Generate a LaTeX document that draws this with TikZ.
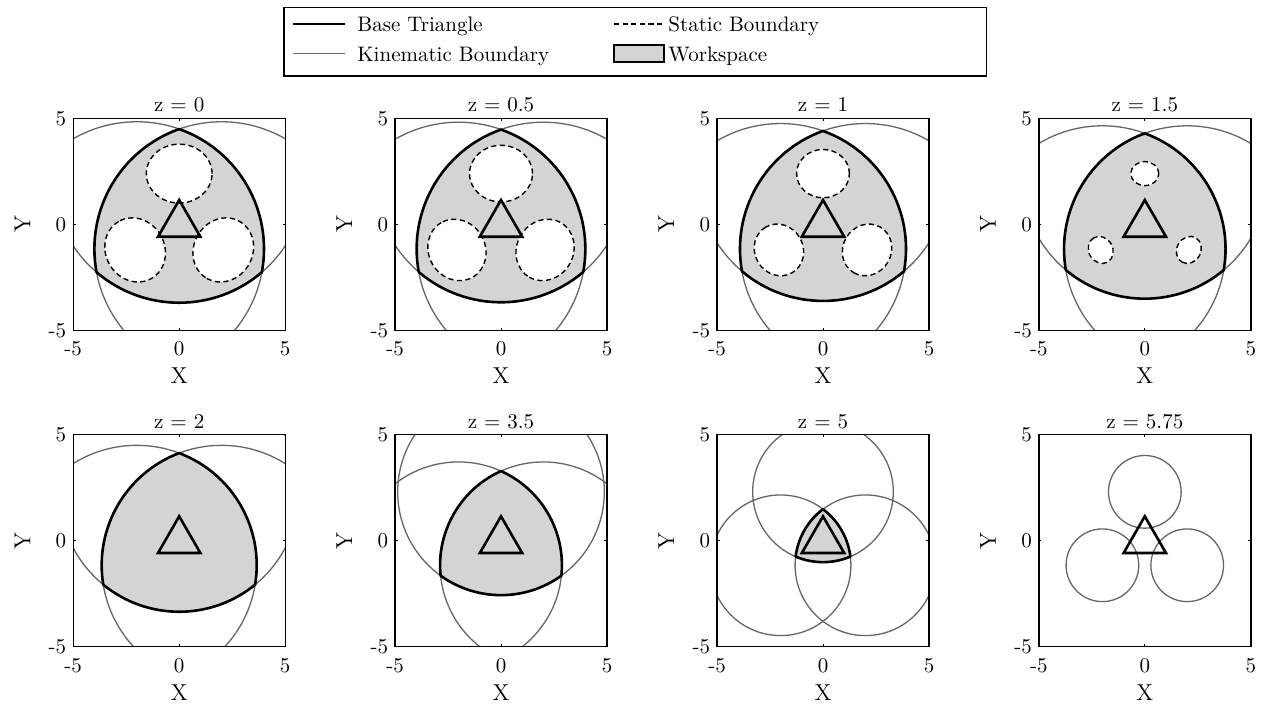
\documentclass[tikz,border=0pt]{standalone}
\usepackage{tikz}
\tikzset{
  kin/.style={draw=black!60, line width=0.65pt},
  wsfill/.style={fill=black!17},
  wsedge/.style={draw=black, line width=1.3pt, line join=round},
  stat/.style={draw=black, line width=0.7pt, dash pattern=on 2.6pt off 1.7pt},
  basetri/.style={draw=black, line width=1.3pt, line join=miter},
  axbox/.style={draw=black, line width=0.7pt},
  lbl/.style={font=\fontsize{10.5}{12}\selectfont, inner sep=0pt},
  axlbl/.style={font=\fontsize{11.5}{13}\selectfont, inner sep=0pt},
}
% #1 name, #2 cx, #3 cy (px), #4 title, #5 z, #6 hole radial semi-axis, #7 hole tangential semi-axis
\newcommand\wsPanel[7]{%
 \pgfmathsetmacro\wsR{sqrt(36-(#5)*(#5))}%
 \pgfmathtruncatemacro\wsOK{\wsR>2.001?1:0}%
 \begin{scope}[shift={(#2,#3)}, x=10.6pt, y=10.6pt]
  \begin{scope}
   \clip (-5,-5) rectangle (5,5);
   \ifnum\wsOK=1
     \pgfmathsetmacro\wsV{-1.1547+sqrt(\wsR*\wsR-4)}%
     \pgfmathsetmacro\wsPhi{atan2(-(0.5*\wsV+2.3094),0.8660*\wsV)}%
     \pgfmathsetmacro\wsAa{-180-\wsPhi}%
     \pgfmathsetmacro\wsAb{\wsPhi}%
     \pgfmathsetmacro\wsBa{-60-\wsPhi}%
     \pgfmathsetmacro\wsBb{120+\wsPhi}%
     \pgfmathsetmacro\wsCa{60-\wsPhi}%
     \pgfmathsetmacro\wsCb{240+\wsPhi}%
     \path[wsfill] (210:\wsV) arc[start angle=\wsAa, end angle=\wsAb, radius=\wsR]
        arc[start angle=\wsBa, end angle=\wsBb, radius=\wsR]
        arc[start angle=\wsCa, end angle=\wsCb, radius=\wsR] -- cycle;
   \fi
   \ifdim #6pt>0pt
     \foreach \ang in {0,120,240} {
       \begin{scope}[rotate=\ang]
         \path[fill=white, stat] (0,2.4) ellipse[x radius=#7, y radius=#6];
       \end{scope}
     }
   \fi
   \foreach \ang in {90,210,330} {
     \path[kin] (\ang:2.3094) circle[radius=\wsR];
   }
   \ifnum\wsOK=1
     \path[wsedge] (210:\wsV) arc[start angle=\wsAa, end angle=\wsAb, radius=\wsR]
        arc[start angle=\wsBa, end angle=\wsBb, radius=\wsR]
        arc[start angle=\wsCa, end angle=\wsCb, radius=\wsR] -- cycle;
   \fi
  \end{scope}
  \path[basetri] (90:1.1547) -- (210:1.1547) -- (330:1.1547) -- cycle;
  \path[axbox] (-5,-5) rectangle (5,5);
  \foreach \t in {-5,0,5} {
    \draw[line width=0.5pt] (\t,-5) -- ++(0,0.12);
    \draw[line width=0.5pt] (\t,5) -- ++(0,-0.12);
    \draw[line width=0.5pt] (-5,\t) -- ++(0.12,0);
    \draw[line width=0.5pt] (5,\t) -- ++(-0.12,0);
  }
  \node[lbl, anchor=base] (#1-title) at (0,5.311) {z = #4};
  \node[lbl, anchor=east] (#1-y5) at (-5.311,5) {5};
  \node[lbl, anchor=east] (#1-y0) at (-5.311,0) {0};
  \node[lbl, anchor=east] (#1-ym) at (-5.311,-5) {-5};
  \node[lbl, anchor=north] (#1-xm) at (-5,-5.519) {-5};
  \node[lbl, anchor=north] (#1-x0) at (0,-5.519) {0};
  \node[lbl, anchor=north] (#1-x5) at (5,-5.519) {5};
  \node[axlbl, anchor=north] (#1-xl) at (0,-6.764) {X};
  \node[axlbl, rotate=90] (#1-yl) at (-7.396,0) {Y};
 \end{scope}
}
\begin{document}
\begin{tikzpicture}[x=0.5pt, y=-0.5pt]
\useasboundingbox[fill=white] (0,0) rectangle (1265,704);
% legend
\path[draw=black, line width=0.75pt] (284,7.3) rectangle (986.7,76);
\coordinate (lg1a) at (293,24);   \coordinate (lg1b) at (345,24);
\coordinate (lg2a) at (293,53.3); \coordinate (lg2b) at (345,53.3);
\coordinate (lg3a) at (614,24);   \coordinate (lg3b) at (663,24);
\draw[draw=black, line width=1pt] (lg1a) -- (lg1b);
\draw[kin] (lg2a) -- (lg2b);
\draw[stat] (lg3a) -- (lg3b);
\path[wsfill, draw=black, line width=1pt] (614,45.5) rectangle (664,62.5);
\node[lbl, anchor=base west] (leg-bt) at (357,32) {Base Triangle};
\node[lbl, anchor=base west] (leg-kb) at (357,61.7) {Kinematic Boundary};
\node[lbl, anchor=base west] (leg-sb) at (668,32) {Static Boundary};
\node[lbl, anchor=base west] (leg-ws) at (668,61.7) {Workspace};
% panels
\wsPanel{p1}{179.2}{224.5}{0}{0}{1.39}{1.55}
\wsPanel{p2}{501.0}{224.5}{0.5}{0.5}{1.335}{1.485}
\wsPanel{p3}{823.0}{224.5}{1}{1}{1.14}{1.245}
\wsPanel{p4}{1144.8}{224.5}{1.5}{1.5}{0.565}{0.66}
\wsPanel{p5}{179.2}{540.8}{2}{2}{0}{0}
\wsPanel{p6}{501.0}{540.8}{3.5}{3.5}{0}{0}
\wsPanel{p7}{823.0}{540.8}{5}{5}{0}{0}
\wsPanel{p8}{1144.8}{540.8}{5.75}{5.75}{0}{0}
\end{tikzpicture}
\end{document}
